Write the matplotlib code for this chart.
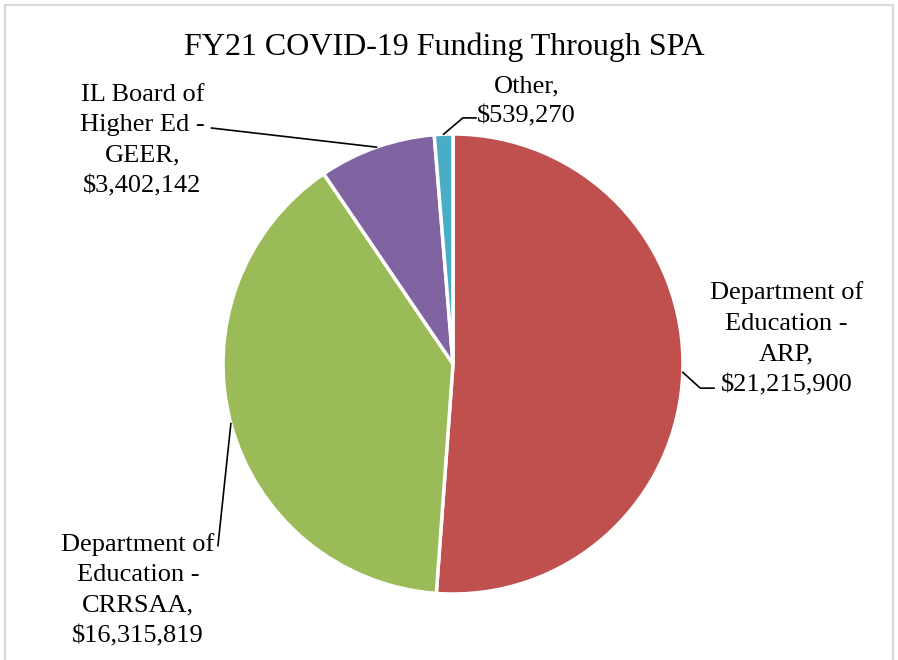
import matplotlib.pyplot as plt
from matplotlib.patches import Rectangle
import numpy as np

plt.rcParams['font.family'] = ['Liberation Serif', 'DejaVu Serif']

# データ
names = ['Department of\nEducation -\nARP', 'Department of\nEducation -\nCRRSAA',
         'IL Board of\nHigher Ed -\nGEER', 'Other']
values = [21215900, 16315819, 3402142, 539270]
colors = ['#C0504D', '#9BBB59', '#8064A2', '#4BACC6']

# ラベル位置 (データ座標, 半径=1)
label_pos = [(1.45, 0.11), (-1.37, -0.983), (-1.35, 0.972), (0.32, 1.142)]
# 引き出し線の折れ点
elbow = [[(1.075, -0.105), (1.135, -0.105)],
         [(-1.022, -0.79)],
         [(-1.05, 1.026)],
         [(0.043, 1.07), (0.10, 1.07)]]

fig = plt.figure(figsize=(8.98, 6.60), dpi=100)
ax = fig.add_axes([223/898, 66/660, 460/898, 460/660])

wedges, _ = ax.pie(values, colors=colors, startangle=90, counterclock=False,
                   wedgeprops=dict(edgecolor='white', linewidth=2.5))
ax.set_xlim(-1, 1)
ax.set_ylim(-1, 1)
ax.set_aspect('equal')

for w, name, v, pos, el in zip(wedges, names, values, label_pos, elbow):
    ang = np.deg2rad((w.theta1 + w.theta2) / 2)
    pts = [(np.cos(ang), np.sin(ang))] + el
    xs, ys = zip(*pts)
    ax.plot(xs, ys, color='black', lw=1.2, clip_on=False)
    ax.text(pos[0], pos[1], f'{name},\n${v:,}', ha='center', va='center',
            fontsize=19, linespacing=1.5, clip_on=False)

fig.text(444/898, 1 - 47/660, 'FY21 COVID-19 Funding Through SPA',
         ha='center', va='center', fontsize=23)

# 外枠
fig.patches.append(Rectangle((5/898, -0.1), 888/898, 1.1 - 5/660,
                             transform=fig.transFigure, fill=False,
                             edgecolor='#D9D9D9', lw=1.5))

fig.savefig('out.png', dpi=100)
